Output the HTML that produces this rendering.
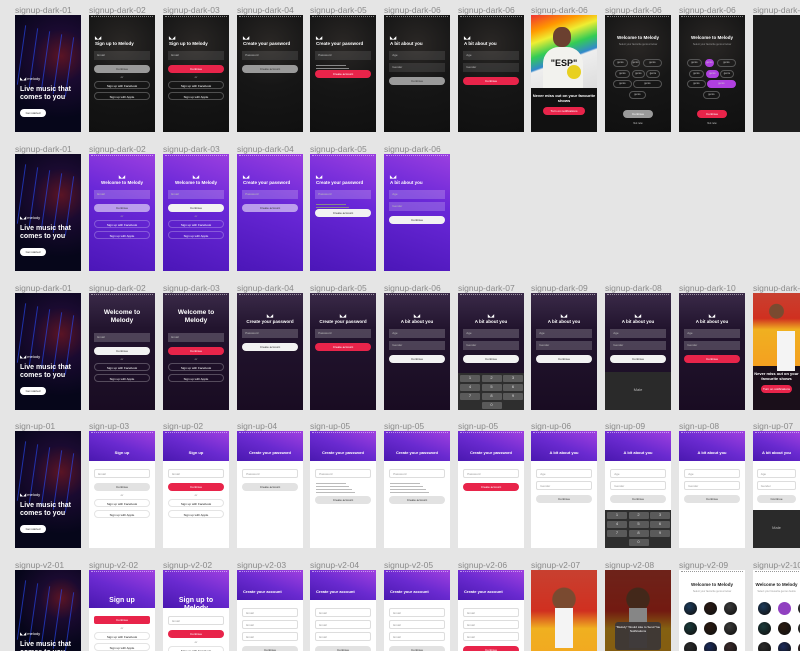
<!DOCTYPE html>
<html><head><meta charset="utf-8">
<style>
html,body{margin:0;padding:0;width:800px;height:651px;overflow:hidden;}
body{background:#e5e5e5;position:relative;font-family:"Liberation Sans",sans-serif;}
.lbl{position:absolute;font-size:8.5px;color:#8a8a8a;white-space:nowrap;}
.scr{position:absolute;overflow:hidden;}
.el{position:absolute;}
.t{position:absolute;left:0;right:0;text-align:center;font-weight:bold;white-space:nowrap;}
.pill{position:absolute;left:8%;right:8%;height:8px;border-radius:5px;font-size:3px;text-align:center;line-height:8px;}
.fld{position:absolute;left:8%;right:8%;height:9px;font-size:3px;padding-left:3px;box-sizing:border-box;line-height:9px;}
.chip{position:absolute;height:8px;border-radius:4px;border:1px solid #555;box-sizing:border-box;font-size:2.5px;color:#ccc;text-align:center;line-height:6px;}
.circ{position:absolute;width:13px;height:13px;border-radius:50%;}
.key{position:absolute;background:#5a5a5a;border-radius:1px;font-size:4px;color:#ddd;text-align:center;}
</style></head><body>
<script>
const cols=[15,89,163,237,310,384,458,531,605,679,753];
const rows=[15,154,293,431,570];
const W=66,H=117;
const labels=[
["signup-dark-01","signup-dark-02","signup-dark-03","signup-dark-04","signup-dark-05","signup-dark-06","signup-dark-06","signup-dark-06","signup-dark-06","signup-dark-06","signup-dark-06"],
["signup-dark-01","signup-dark-02","signup-dark-03","signup-dark-04","signup-dark-05","signup-dark-06"],
["signup-dark-01","signup-dark-02","signup-dark-03","signup-dark-04","signup-dark-05","signup-dark-06","signup-dark-07","signup-dark-09","signup-dark-08","signup-dark-10","signup-dark-11"],
["sign-up-01","sign-up-03","sign-up-02","sign-up-04","sign-up-05","sign-up-05","sign-up-05","sign-up-06","sign-up-09","sign-up-08","sign-up-07"],
["signup-v2-01","signup-v2-02","signup-v2-02","signup-v2-03","signup-v2-04","signup-v2-05","signup-v2-06","signup-v2-07","signup-v2-08","signup-v2-09","signup-v2-10"]
];
const types=[
["hero","d-signup-g","d-signup-r","d-pw-g","d-pw-r","d-bit-g","d-bit-r","photo-rainbow","d-genre-g","d-genre-r","empty"],
["hero","p-welcome-g","p-welcome-w","p-pw-g","p-pw-w","p-bit-w"],
["hero","dp-welcome-w","dp-welcome-r","dp-pw-w","dp-pw-r","dp-bit-w","dp-bit-key","dp-bit-w","dp-bit-more","dp-bit-r","photo-orange"],
["hero","w-signup-g","w-signup-r","w-pw-g","w-pw-list","w-pw-list","w-pw-r","w-bit-g","w-bit-key","w-bit-g","w-bit-more"],
["hero","w2-signup","w2-signup2","w2-create","w2-create","w2-create","w2-create2","photo-orange2","photo-dark","w-circles","w-circles2"]
];
const chipsX=[[8,26,38],[10,27,41],[8,28],[24]];
const chipsW=[[15,9,19],[15,13,14],[19,29],[17]];
const chipsY=[44,55,65,76];
function mk(parent,cls,style,text){const d=document.createElement('div');d.className=cls;d.style.cssText=style;if(text)d.textContent=text;parent.appendChild(d);return d;}
function build(s,type){
  const dark=type.startsWith('d-'),purple=type.startsWith('p-'),dp=type.startsWith('dp-');
  if(type==='hero'){
    s.style.background='radial-gradient(circle at 70% 35%,#5a1424 0,#1a0a30 30%,#06061a 70%)';
    for(let i=0;i<5;i++){const b=mk(s,'el','left:'+(6+i*12)+'px;top:'+(10+i*3)+'px;width:1px;height:60px;background:#2a4cff;opacity:.6;transform:rotate(8deg)');
      
      }
    const a=mk(s,'t','top:61px;font-size:4px;color:#fff;font-weight:normal;text-align:left;left:5px','◣◢ melody');
    
    
    const h=mk(s,'t','top:71px;font-size:7px;color:#fff;line-height:8px;text-align:left;left:5px;right:4px;white-space:normal','Live music that comes to you');
    
    
    const b=mk(s,'pill','top:94px;left:5px;right:auto;width:26px;background:#fff;color:#333','Get started');
    
    
    return;
  }
  if(type==='empty'){s.style.background='#1e1e1e';return;}
  if(type.startsWith('photo')){
    if(type==='photo-rainbow'){
      s.style.background='#111';
      const p=mk(s,'el','left:0;top:0;width:100%;height:73px;background:linear-gradient(160deg,#e33 0,#f90 18%,#ee3 30%,#3c5 45%,#38c 58%,#eee 60%,#ddd 100%)');
      
      
      mk(s,'el','left:22px;top:12px;width:18px;height:20px;border-radius:45%;background:#6b4030');
      mk(s,'el','left:12px;top:32px;width:40px;height:41px;border-radius:40% 40% 0 0;background:#f2f2ee');
      mk(s,'t','top:43px;font-size:9px;color:#111','"ESP"');
      mk(s,'el','left:36px;top:50px;width:14px;height:14px;border-radius:50%;background:#e8d020');
      const h=mk(s,'t','top:78px;font-size:4px;color:#fff;line-height:5px;white-space:normal','Never miss out on your favourite shows');
      
      
      const b=mk(s,'pill','top:92px;left:18%;right:18%;background:#e8244a;color:#fff','Turn on notifications');
      
      
      return;
    }
    s.style.background=type==='photo-dark'?'#3a3530':'#fff';
    const ph=mk(s,'el','left:0;top:0;width:100%;height:'+(type==='photo-orange'?73:H)+'px;background:radial-gradient(circle at 50% 25%,#7a4a30 0,#7a4a30 12%,transparent 13%),linear-gradient(180deg,#c84030 0,#d03020 35%,#f0b020 50%,#f4a020 100%)');
    
    
    mk(s,'el','left:24px;top:38px;width:18px;height:40px;background:#f4f4f4');
    if(type==='photo-orange'){
      s.style.background='#1a0f1a';
      mk(s,'t','top:78px;font-size:4px;color:#fff;line-height:5px;white-space:normal','Never miss out on your favourite shows');
      const b=mk(s,'pill','top:92px;left:18%;right:18%;background:#e8244a;color:#fff','Turn on notifications');
      
      
    }
    if(type==='photo-dark'){
      mk(s,'el','left:0;top:0;width:100%;height:100%;background:rgba(0,0,0,.45)');
      const m=mk(s,'el','left:10px;top:52px;width:46px;height:28px;background:rgba(60,55,55,.95);border-radius:3px;font-size:3px;color:#fff;text-align:center;padding-top:3px;box-sizing:border-box','"Melody" Would Like to Send You Notifications');
      
      
    }
    return;
  }
  let fg='#fff',fieldBg='rgba(255,255,255,.1)',hdr=0;
  if(dark){s.style.background='radial-gradient(circle at 50% 25%,#2a2725 0,#161616 45%,#101010 100%)';}
  else if(purple){s.style.background='linear-gradient(200deg,#9b3fe0 0,#6a28d8 40%,#4b16b8 100%)';fieldBg='rgba(255,255,255,.2)';}
  else if(dp){s.style.background='linear-gradient(180deg,#3a2a48 0,#22142e 30%,#190c22 100%)';fieldBg='rgba(255,255,255,.2)';}
  else {s.style.background='#fff';fg='#222';fieldBg='#fff';
    hdr=type.startsWith('w2-signup')?38:(type.startsWith('w-circles')?0:30);
    if(hdr){const h=mk(s,'el','left:0;top:0;width:100%;height:'+hdr+'px;background:linear-gradient(200deg,#a040e0 0,#6a2ad0 50%,#4a18b0 100%)');
      
      }
  }
  mk(s,'el','left:2px;top:1px;width:62px;height:1px;border-top:1px dotted '+(fg==='#fff'||hdr?'rgba(255,255,255,.5)':'#999'));
  const title=(type.includes('signup')||type.includes('welcome'))?(type.startsWith('d-')?'Sign up to Melody':type.startsWith('w2-signup2')?'Sign up to Melody':type.startsWith('w')?'Sign up':'Welcome to Melody'):
    type.includes('pw')?'Create your password':type.includes('bit')?'A bit about you':type.includes('genre')||type.includes('circles')?'Welcome to Melody':type.includes('create')?'Create your account':'';
  let ty=26,tsize=4.5,tcol=fg,talign='center';
  if(dark){talign='left';}
  if(hdr){ty=hdr-11;tcol='#fff';tsize=type.startsWith('w2-signup')?7:4;}
  if(type.startsWith('w2-create')){talign='left';}
  if(dp&&type.includes('welcome')){tsize=6.5;ty=16;}
  if(purple&&!type.includes('welcome'))talign='left';
  if(type.includes('genre')){talign='center';ty=20;}
  if(type.startsWith('w-circles')){ty=12;}
  const tt=mk(s,'t','top:'+ty+'px;font-size:'+tsize+'px;color:'+tcol+';text-align:'+talign+';'+(talign==='left'?'left:6px;':'')+(tsize>6?'white-space:normal;line-height:8px;left:8px;right:8px;':''),title);
  
  
  if(!hdr&&!type.startsWith('w-circles')&&!type.includes('genre')&&!(dp&&type.includes('welcome'))){const lg=mk(s,'t','top:'+(ty-6)+'px;font-size:4px;color:'+fg+';text-align:'+talign+';'+(talign==='left'?'left:6px;':''),'◣◢');
    
    }
  const border=(fg==='#222')?'border:1px solid #ddd;border-radius:2px;':'';
  let y=hdr?hdr+8:(dp&&type.includes('welcome')?40:ty+10);
  const btnColor=type.endsWith('-r')||type==='w-pw-r'||type==='w2-signup'||type==='w2-signup2'||type==='w2-create2'?'#e8244a':type.endsWith('-w')||(dp&&!type.endsWith('-r'))?'#f2f2f2':type.endsWith('-g')?(fg==='#222'?'#e2e2e2':purple?'rgba(255,255,255,.55)':'#9a9a9a'):'#e2e2e2';
  const btnText=btnColor==='#e8244a'?'#fff':'#333';
  if(type.includes('genre')){
    mk(s,'t','top:28px;font-size:2.5px;color:#999;font-weight:normal','Select your favourite genres below');
    for(let r=0;r<4;r++)for(let c=0;c<chipsX[r].length;c++){
      const hi=type.endsWith('-r')&&((r===0&&c===1)||(r===1&&c===1)||(r===2&&c===1));
      const ch=mk(s,'chip','left:'+chipsX[r][c]+'px;top:'+chipsY[r]+'px;width:'+chipsW[r][c]+'px;'+(hi?'background:#b040e0;border-color:#b040e0':''),'genre');
      
      
    }
    const b=mk(s,'pill','top:95px;left:27%;right:27%;background:'+(type.endsWith('-r')?'#e8244a':'#9a9a9a')+';color:#fff','Continue');
    
    
    mk(s,'t','top:107px;font-size:2.5px;color:#ccc;font-weight:normal','Not now');
    return;
  }
  if(type.startsWith('w-circles')){
    mk(s,'t','top:20px;font-size:2.5px;color:#999;font-weight:normal','Select your favourite genres below');
    const cc=['#1c3a5a','#2a1a14','#3a3a3a','#1a3a3a','#2a1a10','#3a3a38','#2a2a2a','#1a2a5a','#3a2a2a'];
    for(let i=0;i<9;i++){const hi=type==='w-circles2'&&i===1;
      const c=mk(s,'circ','left:'+(5+(i%3)*20)+'px;top:'+(32+Math.floor(i/3)*20)+'px;background:'+(hi?'#9040c0':'radial-gradient(circle at 40% 35%,'+cc[i]+' 0,#111 90%)'));
      
      }
    return;
  }
  const nf=type.includes('create')?3:type.includes('bit')?2:1;
  if(!(type.startsWith('w2-signup')&&type!=='w2-signup2')){
    for(let i=0;i<nf;i++){const f=mk(s,'fld','top:'+(y+i*12)+'px;background:'+fieldBg+';'+border+'color:'+(fg==='#222'?'#999':'#bbb'),type.includes('pw')?'Password':type.includes('bit')?(i?'Gender':'Age'):'Email');
      
      }
    y+=nf*12+2;
  }
  if(type==='w-pw-list'||type==='d-pw-r'||type==='p-pw-w'){
    for(let i=0;i<(type==='w-pw-list'?4:2);i++)mk(s,'el','left:6px;top:'+(y+i*3)+'px;width:'+(30+i*3)+'px;height:1px;background:'+(fg==='#222'?'#bbb':'#888'));
    y+=type==='w-pw-list'?13:5;
  }
  const b=mk(s,'pill','top:'+y+'px;background:'+btnColor+';color:'+btnText+';'+(type==='w2-signup'?'border-radius:2px':''),type.includes('pw')?'Create account':'Continue');
  
  
  y+=10;
  if(type.includes('signup')||type.includes('welcome')){
    mk(s,'t','top:'+y+'px;font-size:3px;color:'+(fg==='#222'?'#888':'#aaa')+';font-weight:normal','or');
    y+=6;
    ['Sign up with Facebook','Sign up with Apple'].forEach((txt,i)=>{
      const o=mk(s,'pill','top:'+(y+i*11)+'px;border:1px solid '+(fg==='#222'?'#e4e4e4':'rgba(255,255,255,.25)')+';color:'+fg+';box-sizing:border-box',txt);
      
      
    });
  }
  if(type.endsWith('-key')){
    const kb=mk(s,'el','left:0;bottom:0;width:100%;height:'+(type==='w-bit-key'?38:37)+'px;background:#2e2e2e');
    
    
    for(let i=0;i<10;i++){const k=mk(kb,'key','left:'+(2+(i<9?i%3:1)*21.5)+'px;top:'+(2+Math.floor(i<9?i/3:3)*9)+'px;width:20px;height:7px;',i<9?String(i+1):'0');
      
      }
  }
  if(type.endsWith('-more')){
    const kb=mk(s,'el','left:0;bottom:0;width:100%;height:38px;background:#2a2a2a;color:#bbb;font-size:4px;text-align:center;line-height:36px','Male');
    
    
  }
}
for(let r=0;r<rows.length;r++){
  for(let c=0;c<types[r].length;c++){
    const lab=document.createElement('div');
    lab.className='lbl';
    lab.style.left=cols[c]+'px';lab.style.top=(rows[r]-10)+'px';
    lab.textContent=labels[r][c];
    
    
    document.body.appendChild(lab);
    const s=document.createElement('div');
    s.className='scr';
    s.style.left=cols[c]+'px';s.style.top=rows[r]+'px';
    s.style.width=Math.min(W,800-cols[c])+'px';
    s.style.height=Math.min(H,651-rows[r])+'px';
    
    
    document.body.appendChild(s);
    build(s,types[r][c]);
  }
}
</script>
</body></html>
